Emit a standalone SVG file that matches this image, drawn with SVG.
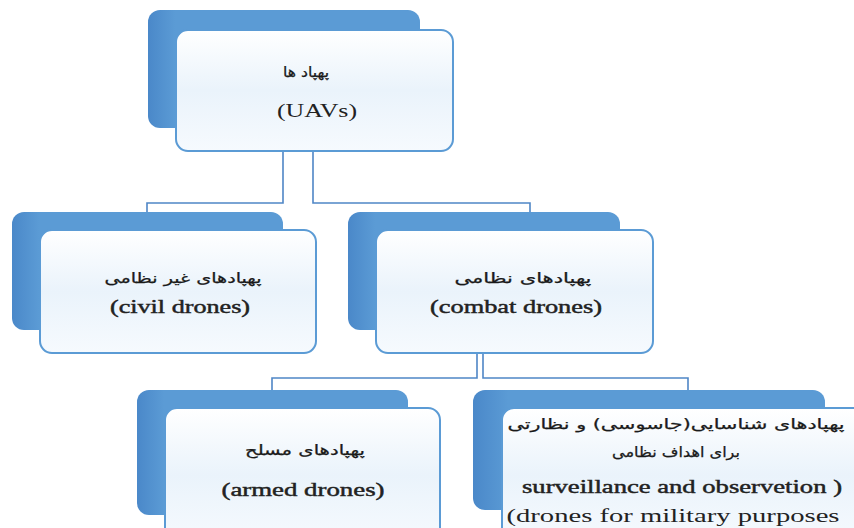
<svg xmlns="http://www.w3.org/2000/svg" width="854" height="528" viewBox="0 0 854 528">
<defs>
<linearGradient id="back" x1="0" y1="0" x2="1" y2="0">
<stop offset="0" stop-color="#4a88c9"/>
<stop offset="0.1" stop-color="#5b9bd5"/>
<stop offset="1" stop-color="#5b9bd5"/>
</linearGradient>
<linearGradient id="front" x1="0" y1="0" x2="0" y2="1">
<stop offset="0" stop-color="#ffffff"/>
<stop offset="0.5" stop-color="#eaf3fb"/>
<stop offset="1" stop-color="#f6fafe"/>
</linearGradient>
<style>
.back{fill:url(#back);}
.front{fill:url(#front);stroke:#5b9bd5;stroke-width:2;}
.conn{fill:none;stroke:#4f86c6;stroke-width:1.6;}
.en{font-family:'Liberation Serif','Times New Roman',serif;font-size:19px;fill:#222;text-anchor:middle;}
.b{stroke:#222;stroke-width:0.45;}
.fa{font-family:'DejaVu Sans','Noto Sans',sans-serif;font-size:14px;fill:#1a1a1a;stroke:#1a1a1a;stroke-width:0.25;text-anchor:middle;direction:rtl;}
</style>
</defs>
<rect width="854" height="528" fill="#ffffff"/>
<g id="connectors">
<path class="conn" d="M283,151 V203 H147 V212"/>
<path class="conn" d="M313,151 V203 H530 V212"/>
<path class="conn" d="M477,353 V378 H272 V390"/>
<path class="conn" d="M483,353 V378 H688 V390"/>
</g>
<g id="uavs">
<rect class="back" x="148" y="10" width="272" height="118" rx="12"/>
<rect class="front" x="176" y="30" width="277" height="121" rx="12"/>
<text class="fa" x="306" y="77" textLength="46" lengthAdjust="spacingAndGlyphs">پهپاد ها</text>
<text class="en" x="317" y="117" textLength="80" lengthAdjust="spacingAndGlyphs">(UAVs)</text>
</g>
<g id="civil">
<rect class="back" x="12" y="212" width="271" height="118" rx="12"/>
<rect class="front" x="40" y="230" width="276" height="123" rx="12"/>
<text class="fa" x="183" y="283" textLength="157" lengthAdjust="spacingAndGlyphs">پهپادهای غیر نظامی</text>
<text class="en b" x="180" y="313" textLength="140" lengthAdjust="spacingAndGlyphs">(civil drones)</text>
</g>
<g id="combat">
<rect class="back" x="348" y="212" width="272" height="118" rx="12"/>
<rect class="front" x="376" y="230" width="277" height="123" rx="12"/>
<text class="fa" x="523" y="283" textLength="137" lengthAdjust="spacingAndGlyphs">پهپادهای نظامی</text>
<text class="en b" x="516" y="313" textLength="172" lengthAdjust="spacingAndGlyphs">(combat drones)</text>
</g>
<g id="armed">
<rect class="back" x="137" y="390" width="271" height="125" rx="12"/>
<rect class="front" x="165" y="408" width="275" height="135" rx="12"/>
<text class="fa" x="305" y="455" textLength="120" lengthAdjust="spacingAndGlyphs">پهپادهای مسلح</text>
<text class="en b" x="303" y="496" textLength="163" lengthAdjust="spacingAndGlyphs">(armed drones)</text>
</g>
<g id="surveillance">
<rect class="back" x="473" y="390" width="352" height="120" rx="12"/>
<rect class="front" x="502" y="408" width="370" height="135" rx="12"/>
<text class="fa" x="676" y="429" textLength="337" lengthAdjust="spacingAndGlyphs">پهپادهای شناسایی(جاسوسی) و نظارتی</text>
<text class="fa" x="676" y="457" textLength="128" lengthAdjust="spacingAndGlyphs">برای اهداف نظامی</text>
<text class="en b" x="682" y="493" textLength="320" lengthAdjust="spacingAndGlyphs">surveillance and observetion )</text>
<text class="en" x="673" y="522" textLength="333" lengthAdjust="spacingAndGlyphs">(drones for military purposes</text>
</g>
</svg>
